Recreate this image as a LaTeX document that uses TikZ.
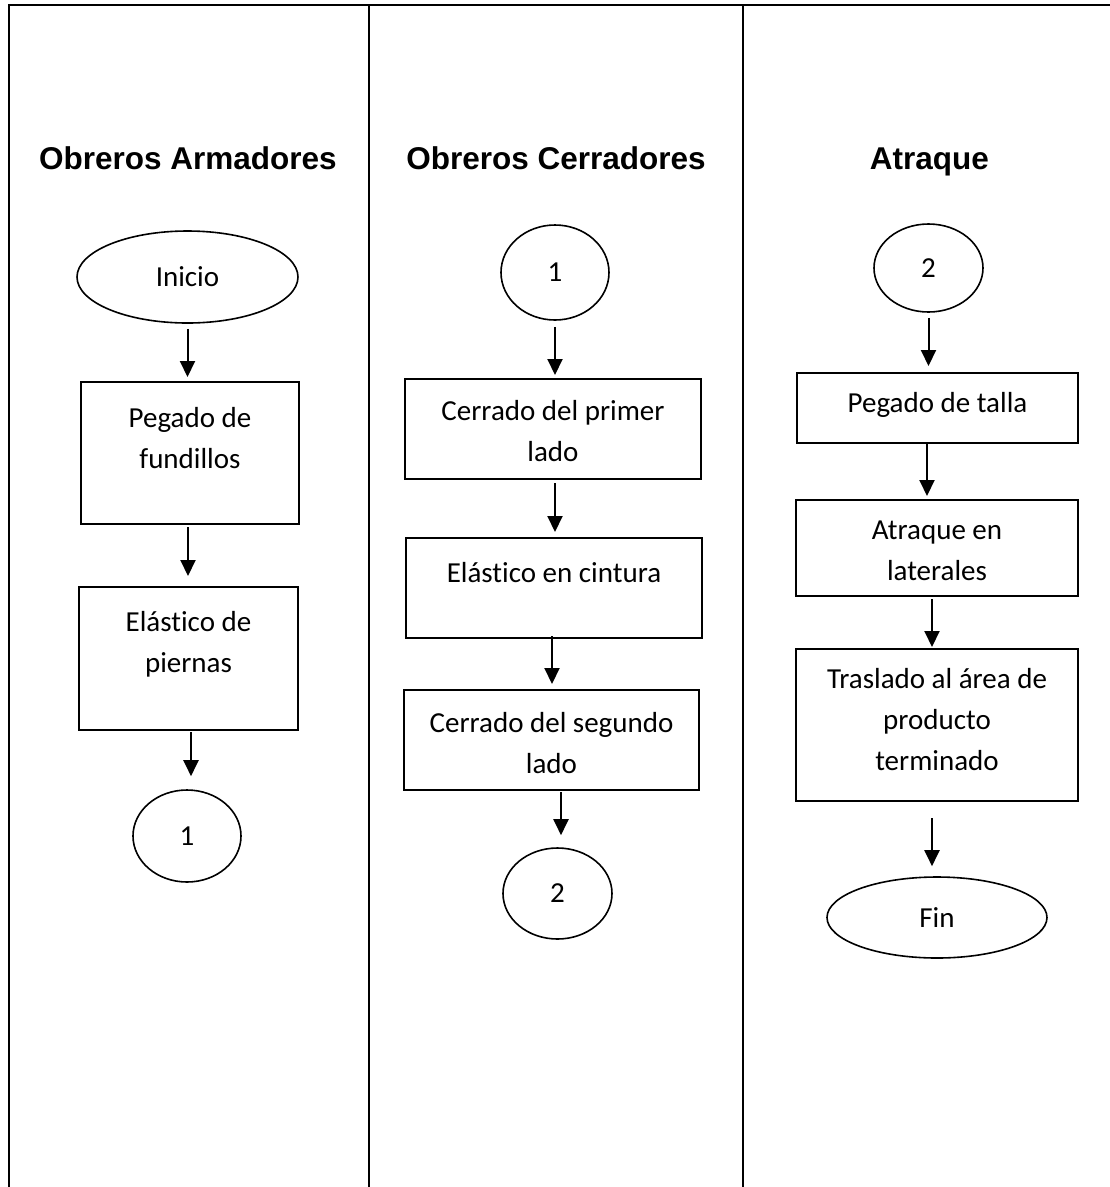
\documentclass[tikz,border=0pt]{standalone}
\usepackage{fontspec}
\setmainfont[Ligatures=NoCommon]{Carlito}
\newfontfamily\headfont{Liberation Sans}
\usetikzlibrary{shapes.geometric,arrows.meta}
% box text: width, height, first-baseline offset, text
\newcommand\flbox[4]{\parbox[c][#2][t]{#1}{\fontsize{29}{41}\selectfont\centering\rule{0pt}{#3}#4\par}}
\begin{document}
\begin{tikzpicture}[x=1pt,y=-1pt,
  frame/.style={line width=2.5pt},
  stepbox/.style={draw, line width=2pt, rectangle, inner sep=0pt},
  oval/.style={draw, line width=1.6pt, ellipse, inner sep=0pt, font=\fontsize{29}{35}\selectfont},
  lanehead/.style={font=\headfont\bfseries\fontsize{31.5}{38}\selectfont, inner sep=0pt, anchor=base},
  arr/.style={line width=2pt, -{Triangle[width=15pt,length=16pt]}}]
\useasboundingbox (0,0) rectangle (1110,1187);
% lanes
\draw[frame] (9,1187) -- (9,5) -- (1110,5);
\draw[frame] (369,5) -- (369,1187);
\draw[frame] (743,5) -- (743,1187);
% headings
\node[lanehead] (h1) at (188,169) {Obreros Armadores};
\node[lanehead] (h2) at (556,169) {Obreros Cerradores};
\node[lanehead] (h3) at (929.5,169) {Atraque};
% column 1
\node[oval, minimum width=221pt, minimum height=92pt] (inicio) at (187.5,277) {Inicio};
\node[stepbox] (a1) at (190,453) {\flbox{218pt}{142pt}{45pt}{Pegado de\\fundillos}};
\node[stepbox] (a2) at (188.5,658.5) {\flbox{219pt}{143pt}{44pt}{Elástico de\\piernas}};
\node[oval, minimum width=108pt, minimum height=92pt] (k1) at (187,836) {1};
% column 2
\node[oval, minimum width=108pt, minimum height=95pt] (k1b) at (555,272.5) {1};
\node[stepbox] (b1) at (553,429) {\flbox{296pt}{100pt}{41pt}{Cerrado del primer\\lado}};
\node[stepbox] (b2) at (554,588) {\flbox{296pt}{100pt}{44pt}{Elástico en cintura}};
\node[stepbox] (b3) at (551.5,740) {\flbox{295pt}{100pt}{42pt}{Cerrado del segundo\\lado}};
\node[oval, minimum width=109pt, minimum height=91pt] (k2) at (557.5,893.5) {2};
% column 3
\node[oval, minimum width=109pt, minimum height=88pt] (k2b) at (928.5,268) {2};
\node[stepbox] (c1) at (937.5,408) {\flbox{281pt}{70pt}{39pt}{Pegado de talla}};
\node[stepbox] (c2) at (937,548) {\flbox{282pt}{96pt}{39pt}{Atraque en\\laterales}};
\node[stepbox] (c3) at (937,725) {\flbox{282pt}{152pt}{39pt}{Traslado al área de\\producto\\terminado}};
\node[oval, minimum width=220pt, minimum height=81pt] (fin) at (937,917.5) {Fin};
% arrows column 1
\draw[arr, shorten <=5pt, shorten >=4pt] (inicio.south) -- (inicio.south |- a1.north);
\draw[arr, shorten <=2pt, shorten >=10pt] ([xshift=-2pt]a1.south) -- ([xshift=-2pt]a1.south |- a2.north);
\draw[arr, shorten <=1pt, shorten >=13pt] ([xshift=2.5pt]a2.south) -- ([xshift=2.5pt]a2.south |- k1.north);
% arrows column 2
\draw[arr, shorten <=6pt, shorten >=3pt] (k1b.south) -- (k1b.south |- b1.north);
\draw[arr, shorten <=3pt, shorten >=5pt] ([xshift=2pt]b1.south) -- ([xshift=2pt]b1.south |- b2.north);
\draw[arr, shorten <=-3pt, shorten >=5pt] ([xshift=-2pt]b2.south) -- ([xshift=-2pt]b2.south |- b3.north);
\draw[arr, shorten <=1pt, shorten >=12pt] ([xshift=9.5pt]b3.south) -- ([xshift=9.5pt]b3.south |- k2.north);
% arrows column 3
\draw[arr, shorten <=5pt, shorten >=6pt] (k2b.south) -- (k2b.south |- c1.north);
\draw[arr, shorten <=0pt, shorten >=3pt] ([xshift=-10.5pt]c1.south) -- ([xshift=-10.5pt]c1.south |- c2.north);
\draw[arr, shorten <=2pt, shorten >=1pt] ([xshift=-5pt]c2.south) -- ([xshift=-5pt]c2.south |- c3.north);
\draw[arr, shorten <=16pt, shorten >=10pt] ([xshift=-5pt]c3.south) -- ([xshift=-5pt]c3.south |- fin.north);
\end{tikzpicture}
\end{document}
